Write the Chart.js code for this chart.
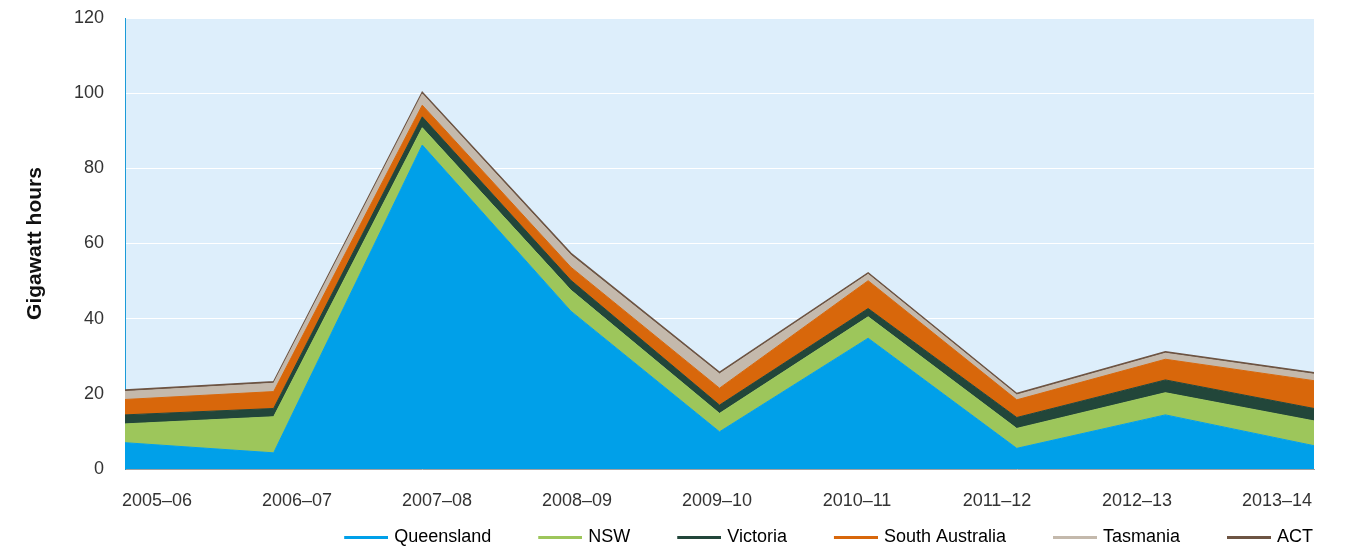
<!DOCTYPE html>
<html>
<head>
<meta charset="utf-8">
<script src="https://cdn.jsdelivr.net/npm/chart.js@4.4.1/dist/chart.umd.min.js"></script>
<style>
  html, body { margin: 0; padding: 0; background: #ffffff; }
  #wrap { width: 1354px; height: 550px; position: relative; }
</style>
</head>
<body>
<div id="wrap"><canvas id="c"></canvas></div>
<script>
const categories = ['2005–06','2006–07','2007–08','2008–09','2009–10','2010–11','2011–12','2012–13','2013–14'];
const queensland = [7.0, 4.3, 86.2, 42.0, 9.9, 34.8, 5.5, 14.4, 6.2];
const nsw        = [5.0, 9.6, 4.6, 5.6, 4.9, 5.7, 5.3, 5.9, 6.6];
const victoria   = [2.4, 2.2, 2.9, 2.6, 2.2, 2.2, 2.9, 3.4, 3.3];
const southAustralia = [4.1, 4.5, 3.1, 3.5, 4.5, 7.4, 4.7, 5.5, 7.4];
const tasmania   = [2.1, 2.2, 3.0, 3.2, 3.8, 1.7, 1.3, 1.6, 1.7];
const act        = [0.4, 0.4, 0.4, 0.5, 0.4, 0.4, 0.4, 0.4, 0.4];
const yTicks = [0, 20, 40, 60, 80, 100, 120];
const seriesNames = ['Queensland','NSW','Victoria','South Australia','Tasmania','ACT'];
const seriesColors = ['#00a0e9','#9dc65b','#22463a','#d8670b','#c4b9ac','#6d5443'];

const FONT = "'Liberation Sans', Arial, Helvetica, sans-serif";
const seriesData = [queensland, nsw, victoria, southAustralia, tasmania, act];

const datasets = seriesData.map((d, i) => ({
  label: seriesNames[i],
  data: d,
  backgroundColor: seriesColors[i],
  borderColor: seriesColors[i],
  borderWidth: i === 5 ? 1.5 : 1,
  fill: i === 0 ? 'origin' : '-1',
  pointRadius: 0,
  pointHoverRadius: 0,
  tension: 0,
  xAxisID: 'x',
  yAxisID: 'y'
}));

// legend marker: transparent lead-in gap followed by a short coloured line
function legendMarker(color) {
  const cv = document.createElement('canvas');
  cv.width = 84; cv.height = 3;
  const g = cv.getContext('2d');
  g.fillStyle = color;
  g.fillRect(40, 0, 44, 3);
  return cv;
}

const plotBg = {
  id: 'plotBg',
  beforeDraw(chart) {
    const {ctx, chartArea: a} = chart;
    ctx.save();
    ctx.fillStyle = '#ddeefb';
    ctx.fillRect(a.left, a.top, a.right - a.left, a.bottom - a.top);
    ctx.restore();
  }
};

new Chart(document.getElementById('c'), {
  type: 'line',
  data: { labels: categories, datasets },
  options: {
    responsive: true,
    maintainAspectRatio: false,
    animation: false,
    layout: { padding: { left: 0, right: 31, top: 18, bottom: -6 } },
    plugins: {
      tooltip: { enabled: false },
      legend: {
        position: 'bottom',
        align: 'end',
        labels: {
          font: { family: FONT, size: 18 },
          color: '#222',
          padding: 10,
          usePointStyle: true,
          pointStyleWidth: 78,
          generateLabels: (chart) => seriesNames.map((n, i) => ({
            text: n,
            fillStyle: seriesColors[i],
            strokeStyle: seriesColors[i],
            lineWidth: 0,
            pointStyle: legendMarker(seriesColors[i]),
            datasetIndex: i,
            hidden: false
          }))
        }
      }
    },
    scales: {
      x: {
        type: 'category',
        display: false,
        offset: false
      },
      xl: {
        type: 'linear',
        position: 'bottom',
        min: -0.2286,
        max: 8.2643,
        grid: { display: false, drawTicks: false },
        border: { display: true, color: '#a0a0a0', width: 1 },
        afterBuildTicks: (s) => { s.ticks = categories.map((_, i) => ({ value: i })); },
        afterFit: (s) => { s.height = 49; },
        ticks: {
          autoSkip: false,
          maxRotation: 0,
          padding: 21,
          font: { family: FONT, size: 18 },
          color: '#333',
          callback: (v) => categories[v] !== undefined ? categories[v] : ''
        }
      },
      y: {
        stacked: true,
        min: 0,
        max: 120,
        afterBuildTicks: (s) => { s.ticks = yTicks.map(v => ({ value: v })); },
        afterFit: (s) => { s.width = 125; },
        grid: { color: '#ffffff', lineWidth: 1, drawTicks: true, tickLength: 20, tickColor: 'rgba(0,0,0,0)' },
        border: { display: true, color: '#1b9bd8', width: 1 },
        ticks: {
          padding: 1,
          font: { family: FONT, size: 18 },
          color: '#333'
        },
        title: {
          display: true,
          text: 'Gigawatt hours',
          font: { family: FONT, size: 21, weight: 'bold' },
          color: '#111',
          padding: { top: 23, bottom: 0 }
        }
      },
      yr: {
        type: 'linear',
        position: 'right',
        display: true,
        grid: { display: false, drawTicks: false },
        border: { display: false },
        ticks: { display: false },
        afterFit: (s) => { s.width = 9; }
      }
    }
  },
  plugins: [plotBg]
});
</script>
</body>
</html>
